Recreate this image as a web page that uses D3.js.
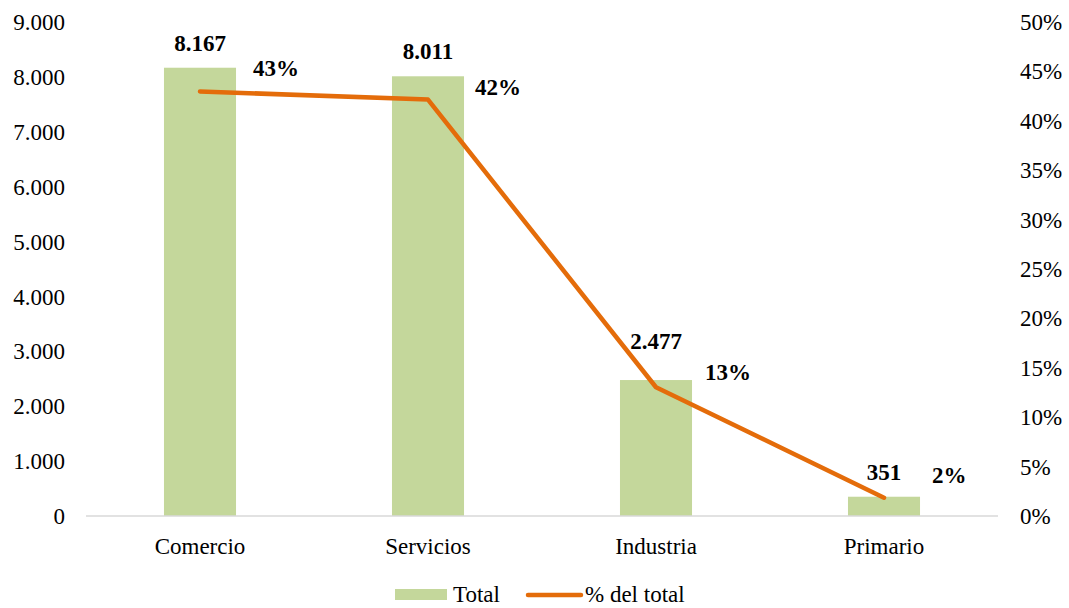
<!DOCTYPE html>
<html>
<head>
<meta charset="utf-8">
<script src="https://cdn.jsdelivr.net/npm/d3@7/dist/d3.min.js"></script>
<style>
  html, body { margin: 0; padding: 0; background: #fff; }
  svg { display: block; font-family: "Liberation Serif", "Times New Roman", serif; }
</style>
</head>
<body>
<svg id="chart" width="1069" height="608"></svg>
<script>
// ---- data ----
const categories = ["Comercio", "Servicios", "Industria", "Primario"];
const totals = [8167, 8011, 2477, 351];
const shares = [0.4297, 0.4215, 0.1303, 0.0185];
const shareLabels = ["43%", "42%", "13%", "2%"];
const leftTicks = [0, 1000, 2000, 3000, 4000, 5000, 6000, 7000, 8000, 9000];
const rightTicks = [0, 0.05, 0.10, 0.15, 0.20, 0.25, 0.30, 0.35, 0.40, 0.45, 0.50];
const legendLabels = ["Total", "% del total"];

// ---- layout / style ----
const barColor = "#c4d79b";
const lineColor = "#e46c0a";
const fontSize = 23;
const plot = { left: 86, right: 998, top: 22, bottom: 516 };
// label offsets (layout only)
const valueLabelDy = [-17, -17, -31, -17];
const pctLabelDx = [53, 47, 49, 48];
const pctLabelDy = [-15, -5, -7, -15];

const svg = d3.select("#chart");
const fmtThousands = d3.formatLocale({ decimal: ",", thousands: ".", grouping: [3], currency: ["", ""] }).format(",.0f");

const x = d3.scaleBand().domain(categories).range([plot.left, plot.right]).paddingInner(0).paddingOuter(0);
const yL = d3.scaleLinear().domain([0, 9000]).range([plot.bottom, plot.top]);
const yR = d3.scaleLinear().domain([0, 0.5]).range([plot.bottom, plot.top]);
const barW = x.bandwidth() * 0.316;

// left axis
const axL = d3.axisLeft(yL).tickValues(leftTicks).tickFormat(fmtThousands).tickSize(0).tickPadding(21);
const gL = svg.append("g").attr("transform", `translate(${plot.left},0)`).call(axL);
gL.select(".domain").remove();
gL.selectAll("text").attr("font-size", fontSize).attr("font-family", "Liberation Serif").attr("fill", "#000").attr("dy", "0.33em");

// right axis
const axR = d3.axisRight(yR).tickValues(rightTicks).tickFormat(d3.format(".0%")).tickSize(0).tickPadding(22);
const gR = svg.append("g").attr("transform", `translate(${plot.right},0)`).call(axR);
gR.select(".domain").remove();
gR.selectAll("text").attr("font-size", fontSize).attr("font-family", "Liberation Serif").attr("fill", "#000").attr("dy", "0.33em");

// bars
svg.append("g").selectAll("rect").data(totals).join("rect")
  .attr("x", (d, i) => x(categories[i]) + x.bandwidth() / 2 - barW / 2)
  .attr("y", d => yL(d))
  .attr("width", barW)
  .attr("height", d => yL(0) - yL(d))
  .attr("fill", barColor);

// baseline
svg.append("line")
  .attr("x1", plot.left).attr("x2", plot.right)
  .attr("y1", yL(0)).attr("y2", yL(0))
  .attr("stroke", "#d9d9d9").attr("stroke-width", 1.5);

// category axis labels
const axB = d3.axisBottom(x).tickSize(0).tickPadding(22);
const gB = svg.append("g").attr("transform", `translate(0,${plot.bottom})`).call(axB);
gB.select(".domain").remove();
gB.selectAll("text").attr("font-size", fontSize).attr("font-family", "Liberation Serif").attr("fill", "#000");

// line
const line = d3.line()
  .x((d, i) => x(categories[i]) + x.bandwidth() / 2)
  .y(d => yR(d));
svg.append("path").datum(shares)
  .attr("d", line)
  .attr("fill", "none")
  .attr("stroke", lineColor)
  .attr("stroke-width", 4.5)
  .attr("stroke-linejoin", "round")
  .attr("stroke-linecap", "round");

// value labels
svg.append("g").selectAll("text").data(totals).join("text")
  .attr("x", (d, i) => x(categories[i]) + x.bandwidth() / 2)
  .attr("y", (d, i) => yL(d) + valueLabelDy[i])
  .attr("text-anchor", "middle")
  .attr("font-size", fontSize).attr("font-weight", "bold")
  .text(d => fmtThousands(d));

// percent labels
svg.append("g").selectAll("text").data(shares).join("text")
  .attr("x", (d, i) => x(categories[i]) + x.bandwidth() / 2 + pctLabelDx[i])
  .attr("y", (d, i) => yR(d) + pctLabelDy[i])
  .attr("text-anchor", "start")
  .attr("font-size", fontSize).attr("font-weight", "bold")
  .text((d, i) => shareLabels[i]);

// legend
const lg = svg.append("g");
lg.append("rect").attr("x", 395).attr("y", 589).attr("width", 52).attr("height", 11).attr("fill", barColor);
lg.append("text").attr("x", 453).attr("y", 602).attr("font-size", fontSize).text(legendLabels[0]);
lg.append("line").attr("x1", 528).attr("x2", 581).attr("y1", 595).attr("y2", 595)
  .attr("stroke", lineColor).attr("stroke-width", 4.5).attr("stroke-linecap", "round");
lg.append("text").attr("x", 585).attr("y", 602).attr("font-size", fontSize).text(legendLabels[1]);
</script>
</body>
</html>
